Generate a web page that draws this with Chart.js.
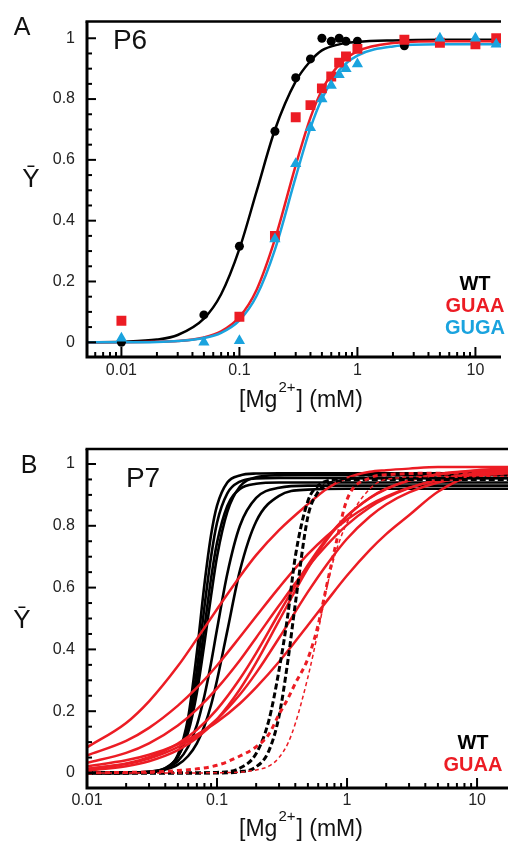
<!DOCTYPE html>
<html>
<head>
<meta charset="utf-8">
<script src="https://cdn.jsdelivr.net/npm/chart.js@4.4.1/dist/chart.umd.min.js"></script>
<style>
  body { margin: 0; background: #fff; }
  #wrap { position: relative; width: 508px; height: 846px; }
  canvas { position: absolute; left: 0; }
</style>
</head>
<body>
<div id="wrap">
  <canvas id="chartA" width="508" height="425" style="top:0"></canvas>
  <canvas id="chartB" width="508" height="421" style="top:425px"></canvas>
</div>
<script>
// ---------- tick labels ----------
const xTickValues = [0.01, 0.1, 1, 10];
const xTickLabels = ['0.01', '0.1', '1', '10'];
const yTickValues = [0, 0.2, 0.4, 0.6, 0.8, 1];
const yTickLabels = ['0', '0.2', '0.4', '0.6', '0.8', '1'];

// ---------- panel A (P6): measured points ----------
const wtX = [0.01, 0.05, 0.1, 0.2, 0.3, 0.4, 0.5, 0.6, 0.7, 0.8, 1, 2.5];
const wtY = [0.0, 0.09, 0.316, 0.694, 0.87, 0.932, 1.0, 0.99, 1.0, 0.99, 0.99, 0.975];
const guaaX = [0.01, 0.1, 0.2, 0.3, 0.4, 0.5, 0.6, 0.7, 0.8, 1, 2.5, 5, 10, 15];
const guaaY = [0.071, 0.084, 0.35, 0.74, 0.78, 0.835, 0.874, 0.92, 0.94, 0.965, 0.995, 0.985, 0.98, 1.0];
const gugaX = [0.01, 0.05, 0.1, 0.2, 0.3, 0.4, 0.5, 0.6, 0.7, 0.8, 1, 5, 10, 15];
const gugaY = [0.013, 0.0, 0.005, 0.34, 0.587, 0.706, 0.80, 0.845, 0.88, 0.90, 0.915, 1.0, 1.0, 0.98];

// panel A fitted curves
const fitXA = [0.005, 0.01, 0.02, 0.03, 0.05, 0.07, 0.1, 0.14, 0.2, 0.3, 0.4, 0.5, 0.7, 1, 2, 5, 16.5];
const wtFit = [0, 0.002, 0.009, 0.024, 0.078, 0.158, 0.307, 0.497, 0.699, 0.858, 0.925, 0.96, 0.98, 0.988, 0.993, 0.995, 0.995];
const guaaFit = [0, 0, 0.002, 0.004, 0.016, 0.036, 0.083, 0.173, 0.339, 0.582, 0.739, 0.829, 0.913, 0.957, 0.984, 0.99, 0.99];
const gugaFit = [0, 0, 0.001, 0.004, 0.014, 0.031, 0.072, 0.153, 0.305, 0.543, 0.705, 0.80, 0.894, 0.943, 0.973, 0.98, 0.98];

// ---------- panel B (P7): curves ----------
const xBlack = [0.01, 0.03, 0.04, 0.05, 0.06, 0.07, 0.08, 0.09, 0.1, 0.12, 0.15, 0.2, 0.3, 0.5, 1, 17.3];
const wt1 = [0, 0.002, 0.013, 0.059, 0.18, 0.39, 0.61, 0.77, 0.865, 0.94, 0.963, 0.969, 0.97, 0.97, 0.97, 0.97];
const wt2 = [0, 0.002, 0.013, 0.054, 0.157, 0.333, 0.537, 0.70, 0.81, 0.905, 0.943, 0.953, 0.955, 0.955, 0.955, 0.955];
const wt3 = [0, 0.003, 0.014, 0.054, 0.142, 0.29, 0.47, 0.63, 0.745, 0.864, 0.919, 0.936, 0.94, 0.94, 0.94, 0.94];
const wt4 = [0, 0.003, 0.016, 0.053, 0.132, 0.26, 0.42, 0.573, 0.70, 0.845, 0.927, 0.957, 0.964, 0.965, 0.965, 0.965];
const wt5 = [0, 0.004, 0.015, 0.039, 0.085, 0.155, 0.25, 0.356, 0.465, 0.645, 0.80, 0.89, 0.923, 0.93, 0.93, 0.93];
const wt6 = [0, 0.004, 0.011, 0.027, 0.055, 0.096, 0.152, 0.22, 0.30, 0.46, 0.655, 0.814, 0.897, 0.917, 0.92, 0.92];

const xDash = [0.01, 0.05, 0.1, 0.15, 0.2, 0.25, 0.3, 0.35, 0.4, 0.5, 0.6, 0.7, 0.8, 1, 1.5, 2, 5, 17.3];
const wtDash1 = [0, 0, 0.002, 0.016, 0.063, 0.169, 0.333, 0.51, 0.70, 0.88, 0.93, 0.945, 0.95, 0.953, 0.955, 0.955, 0.955, 0.955];
const wtDash2 = [0, 0, 0, 0.004, 0.02, 0.071, 0.184, 0.36, 0.547, 0.83, 0.91, 0.935, 0.943, 0.948, 0.95, 0.95, 0.95, 0.95];
const guaaDash1 = [0, 0.008, 0.025, 0.055, 0.085, 0.125, 0.19, 0.24, 0.29, 0.37, 0.48, 0.61, 0.72, 0.885, 0.955, 0.965, 0.97, 0.97];
const guaaDash2 = [0, 0, 0.001, 0.003, 0.01, 0.022, 0.05, 0.095, 0.16, 0.31, 0.46, 0.60, 0.70, 0.81, 0.92, 0.95, 0.96, 0.96];

const xRed = [0.01, 0.02, 0.03, 0.05, 0.07, 0.1, 0.15, 0.2, 0.3, 0.5, 0.7, 1, 1.5, 2, 3, 5, 10, 17.3];
const guaa1 = [0.083, 0.162, 0.232, 0.346, 0.434, 0.53, 0.636, 0.705, 0.786, 0.87, 0.92, 0.955, 0.975, 0.98, 0.985, 0.99, 0.99, 0.99];
const guaa2 = [0.057, 0.104, 0.146, 0.218, 0.276, 0.348, 0.44, 0.507, 0.60, 0.708, 0.767, 0.82, 0.868, 0.894, 0.923, 0.947, 0.967, 0.976];
const guaa3 = [0.033, 0.065, 0.096, 0.154, 0.206, 0.274, 0.365, 0.438, 0.542, 0.667, 0.738, 0.803, 0.86, 0.89, 0.922, 0.949, 0.97, 0.978];
const guaa4 = [0.013, 0.031, 0.051, 0.095, 0.14, 0.206, 0.305, 0.388, 0.517, 0.673, 0.76, 0.832, 0.89, 0.919, 0.946, 0.967, 0.98, 0.985];
const guaa5 = [0.008, 0.022, 0.038, 0.074, 0.113, 0.174, 0.271, 0.357, 0.493, 0.662, 0.755, 0.831, 0.891, 0.92, 0.947, 0.966, 0.978, 0.982];
const guaa6 = [0.013, 0.029, 0.047, 0.084, 0.121, 0.174, 0.254, 0.324, 0.437, 0.586, 0.675, 0.758, 0.83, 0.869, 0.908, 0.94, 0.962, 0.97];
const guaa7 = [0.022, 0.041, 0.059, 0.093, 0.124, 0.165, 0.225, 0.277, 0.36, 0.478, 0.557, 0.639, 0.722, 0.773, 0.834, 0.91, 0.97, 0.985];

const BLACK = '#000000';
const RED = '#ec1c24';
const BLUE = '#1aa3de';
const FONT = '"Liberation Sans", Arial, Helvetica, sans-serif';

const pts = (xs, ys) => xs.map((x, i) => ({ x: x, y: ys[i] }));

function curve(xs, ys, color, width, order, dash) {
  return {
    data: pts(xs, ys), showLine: true, pointRadius: 0,
    borderColor: color, borderWidth: width, borderDash: dash || [],
    cubicInterpolationMode: 'monotone', fill: false, order: order
  };
}
function marks(xs, ys, color, style, radius, order) {
  return {
    data: pts(xs, ys), showLine: false, pointStyle: style, pointRadius: radius,
    backgroundColor: color, borderColor: color, borderWidth: 0, order: order
  };
}

// axes frame, inward ticks and the free texts
function decorPlugin(texts) {
  return {
    id: 'decor',
    afterDraw(chart) {
      const ctx = chart.ctx;
      const a = chart.chartArea;
      const xs = chart.scales.x, ys = chart.scales.y;
      ctx.save();
      ctx.strokeStyle = '#000';
      ctx.lineWidth = 2;
      for (let i = 0; i <= 20; i++) {
        const py = ys.getPixelForValue(i * 0.05);
        const len = i % 4 === 0 ? 9 : 5;
        ctx.beginPath(); ctx.moveTo(a.left, py); ctx.lineTo(a.left + len, py); ctx.stroke();
      }
      for (let d = -3; d <= 1; d++) {
        for (let m = 1; m <= 9; m++) {
          const v = m * Math.pow(10, d);
          if (v < xs.min || v > xs.max) continue;
          const px = xs.getPixelForValue(v);
          const len = m === 1 ? 10 : 5;
          ctx.beginPath(); ctx.moveTo(px, a.bottom); ctx.lineTo(px, a.bottom - len); ctx.stroke();
        }
      }
      ctx.lineWidth = 3;
      ctx.beginPath();
      ctx.moveTo(a.left, a.top); ctx.lineTo(a.left, a.bottom); ctx.lineTo(a.right, a.bottom);
      ctx.stroke();
      ctx.lineWidth = 2.5;
      ctx.beginPath(); ctx.moveTo(a.left - 1.5, a.top); ctx.lineTo(a.right, a.top); ctx.stroke();

      ctx.fillStyle = '#111';
      ctx.textBaseline = 'middle';
      ctx.textAlign = 'center';
      ctx.font = '25px ' + FONT;
      ctx.fillText(texts.panel[0], texts.panel[1], texts.panel[2]);
      ctx.font = '28px ' + FONT;
      ctx.fillText(texts.name[0], texts.name[1], texts.name[2]);
      ctx.font = '26px ' + FONT;
      ctx.fillText('Ȳ', texts.ylab[0], texts.ylab[1]);

      ctx.font = 'bold 20px ' + FONT;
      texts.legend.forEach(l => { ctx.fillStyle = l[1]; ctx.fillText(l[0], l[2], l[3]); });

      // [Mg2+] (mM) with a raised 2+
      ctx.fillStyle = '#111';
      ctx.textAlign = 'left';
      ctx.textBaseline = 'alphabetic';
      const big = '23px ' + FONT, small = '15px ' + FONT;
      ctx.font = big;
      const w1 = ctx.measureText('[Mg').width, w3 = ctx.measureText('] (mM)').width;
      ctx.font = small;
      const w2 = ctx.measureText('2+').width;
      let x = texts.xlab[0] - (w1 + w2 + w3) / 2;
      const base = texts.xlab[1];
      ctx.font = big; ctx.fillText('[Mg', x, base); x += w1;
      ctx.font = small; ctx.fillText('2+', x + 1, base - 15); x += w2 + 2;
      ctx.font = big; ctx.fillText('] (mM)', x, base);
      ctx.restore();
    }
  };
}

function makeChart(id, s) {
  return new Chart(document.getElementById(id), {
    type: 'scatter',
    data: { datasets: s.datasets },
    options: {
      responsive: false,
      animation: false,
      devicePixelRatio: 1,
      layout: { padding: { top: s.padTop, right: 0, left: 0, bottom: 0 } },
      plugins: { legend: { display: false }, tooltip: { enabled: false } },
      scales: {
        x: {
          type: 'logarithmic', min: s.xMin, max: s.xMax,
          grid: { display: false, drawTicks: false }, border: { display: false },
          afterBuildTicks: sc => { sc.ticks = xTickValues.map(v => ({ value: v })); },
          afterFit: sc => { sc.height = s.xAxisH; },
          ticks: {
            autoSkip: false, maxRotation: 0, padding: s.xPad, color: '#222',
            font: { family: FONT, size: 16 },
            callback: (v, i) => xTickLabels[i]
          }
        },
        y: {
          type: 'linear', min: s.yMin, max: s.yMax,
          grid: { display: false, drawTicks: false }, border: { display: false },
          afterBuildTicks: sc => { sc.ticks = yTickValues.map(v => ({ value: v })); },
          afterFit: sc => { sc.width = 87; },
          ticks: {
            autoSkip: false, padding: 12, color: '#222',
            font: { family: FONT, size: 16 },
            callback: (v, i) => yTickLabels[i]
          }
        }
      }
    },
    plugins: [decorPlugin(s.texts)]
  });
}

makeChart('chartA', {
  xMin: 0.00511, xMax: 16.47, yMin: -0.0484, yMax: 1.0548,
  padTop: 15, xAxisH: 68, xPad: 4,
  datasets: [
    marks(gugaX, gugaY, BLUE, 'triangle', 6.5, 0),
    marks(guaaX, guaaY, RED, 'rect', 7, 1),
    marks(wtX, wtY, BLACK, 'circle', 4.5, 2),
    curve(fitXA, gugaFit, BLUE, 2.5, 3),
    curve(fitXA, guaaFit, RED, 2.5, 4),
    curve(fitXA, wtFit, BLACK, 2.5, 5)
  ],
  texts: {
    panel: ['A', 22, 28], name: ['P6', 130, 41], ylab: [31, 180],
    xlab: [300, 407],
    legend: [['WT', BLACK, 475, 284], ['GUAA', RED, 475, 306], ['GUGA', BLUE, 475, 328]]
  }
});

makeChart('chartB', {
  xMin: 0.01, xMax: 17.3, yMin: -0.0485, yMax: 1.0485,
  padTop: 24, xAxisH: 58, xPad: 3,
  datasets: [
    curve(xDash, guaaDash2, RED, 1.5, 0, [4, 3]),
    curve(xDash, guaaDash1, RED, 3, 1, [5, 4]),
    curve(xDash, wtDash1, BLACK, 3, 2, [6, 3]),
    curve(xDash, wtDash2, BLACK, 3, 3, [6, 3]),
    curve(xRed, guaa1, RED, 2.5, 4),
    curve(xRed, guaa2, RED, 2.5, 5),
    curve(xRed, guaa3, RED, 2.5, 6),
    curve(xRed, guaa4, RED, 2.5, 7),
    curve(xRed, guaa5, RED, 2.5, 8),
    curve(xRed, guaa6, RED, 2.5, 9),
    curve(xRed, guaa7, RED, 2.5, 10),
    curve(xBlack, wt1, BLACK, 2.6, 11),
    curve(xBlack, wt2, BLACK, 2.6, 12),
    curve(xBlack, wt3, BLACK, 2.6, 13),
    curve(xBlack, wt4, BLACK, 2.6, 14),
    curve(xBlack, wt5, BLACK, 2.6, 15),
    curve(xBlack, wt6, BLACK, 2.6, 16)
  ],
  texts: {
    panel: ['B', 29, 41], name: ['P7', 143, 54], ylab: [22, 196],
    xlab: [300, 411],
    legend: [['WT', BLACK, 473, 318], ['GUAA', RED, 473, 340]]
  }
});
</script>
</body>
</html>
